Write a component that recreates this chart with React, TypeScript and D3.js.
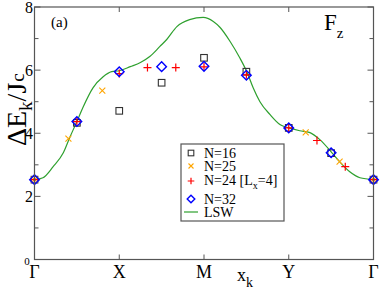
import React from 'react';
import * as d3 from 'd3';

// path positions: 0=Γ, 1=X, 2=M, 3=Y, 4=Γ
const kLabels = ['Γ', 'X', 'M', 'Y', 'Γ'];
const yTicks = [0, 2, 4, 6, 8];
const yMinor = [1, 3, 5, 7];

const n16K = [0, 0.5, 1, 1.5, 2, 2.5, 3, 3.5, 4];
const n16E = [2.53, 4.33, 4.71, 5.6, 6.39, 5.95, 4.17, 3.37, 2.53];

const n25K = [0, 0.4, 0.8, 3.2, 3.6, 4];
const n25E = [2.53, 3.83, 5.35, 4.03, 3.1, 2.53];

const n24K = [0, 0.5, 1, 1.333, 1.667, 2, 2.5, 3, 3.333, 3.667, 4];
const n24E = [2.53, 4.37, 5.89, 6.08, 6.08, 6.1, 5.85, 4.17, 3.77, 2.94, 2.53];

const n32K = [0, 0.5, 1, 1.5, 2, 2.5, 3, 3.5, 4];
const n32E = [2.53, 4.37, 5.95, 6.11, 6.12, 5.84, 4.17, 3.38, 2.53];

const lswK = [0, 0.1, 0.22, 0.34, 0.42, 0.5, 0.57, 0.69, 0.81, 0.91, 1.0, 1.13, 1.25, 1.36, 1.48,
  1.56, 1.68, 1.83, 1.99, 2.11, 2.19, 2.31, 2.42, 2.51, 2.58, 2.66, 2.78, 2.9, 3.0, 3.13,
  3.25, 3.37, 3.51, 3.6, 3.72, 3.84, 4.0];
const lswE = [2.53, 2.59, 2.94, 3.38, 3.89, 4.37, 4.81, 5.44, 5.79, 5.95, 5.98, 6.11, 6.24, 6.43, 6.75,
  6.97, 7.38, 7.6, 7.67, 7.54, 7.35, 6.9, 6.4, 5.92, 5.44, 5.0, 4.59, 4.27, 4.17, 4.08,
  4.02, 3.79, 3.38, 3.1, 2.78, 2.59, 2.53];

const W = 382;
const H = 294;
const left = 34.5;
const right = 373.5;
const top = 7;
const bottom = 259.5;

const axisColor = '#555';
const green = '#2ea02e';
const serif = '"Liberation Serif", "DejaVu Serif", serif';

const x = d3.scaleLinear().domain([0, 4]).range([left, right]);
const y = d3.scaleLinear().domain([0, 8]).range([bottom, top]);

const square = (cx: number, cy: number, key: string, s = 3.3) => (
  <rect key={key} x={cx - s} y={cy - s} width={2 * s} height={2 * s} fill="none" stroke="#333" strokeWidth={1.1} />
);
const cross = (cx: number, cy: number, key: string, s = 3) => (
  <path key={key} d={`M${cx - s},${cy - s}L${cx + s},${cy + s}M${cx - s},${cy + s}L${cx + s},${cy - s}`} stroke="#ffa500" strokeWidth={1.1} />
);
const plus = (cx: number, cy: number, key: string, s = 4) => (
  <path key={key} d={`M${cx - s},${cy}L${cx + s},${cy}M${cx},${cy - s}L${cx},${cy + s}`} stroke="#ff0000" strokeWidth={1.2} />
);
const diamond = (cx: number, cy: number, key: string, s = 4.8) => (
  <path key={key} d={`M${cx},${cy - s}L${cx + s},${cy}L${cx},${cy + s}L${cx - s},${cy}Z`} fill="none" stroke="#0000ff" strokeWidth={1.4} />
);

const App: React.FC = () => {
  const line = d3.line<number>()
    .x((_, i) => x(lswK[i]))
    .y((d) => y(d))
    .curve(d3.curveMonotoneX);

  const lx = 181;
  const ly = 144;
  const symX = 191;
  const txtX = 204;
  const lfs = 14;

  return (
    <div style={{ position: 'absolute', left: 0, top: 0 }}>
      <svg width={W} height={H} style={{ display: 'block', background: '#fff' }}>
        {/* ticks */}
        {yTicks.map((t) => (
          <g key={'yt' + t}>
            <line x1={left} x2={left + 6} y1={y(t)} y2={y(t)} stroke={axisColor} />
            <line x1={right} x2={right - 6} y1={y(t)} y2={y(t)} stroke={axisColor} />
          </g>
        ))}
        {yMinor.map((t) => (
          <g key={'ym' + t}>
            <line x1={left} x2={left + 4} y1={y(t)} y2={y(t)} stroke={axisColor} />
            <line x1={right} x2={right - 4} y1={y(t)} y2={y(t)} stroke={axisColor} />
          </g>
        ))}
        {[1, 2, 3].map((t) => (
          <g key={'xt' + t}>
            <line x1={x(t)} x2={x(t)} y1={bottom} y2={bottom - 5} stroke={axisColor} />
            <line x1={x(t)} x2={x(t)} y1={top} y2={top + 5} stroke={axisColor} />
          </g>
        ))}

        {/* LSW */}
        <path d={line(lswE) || ''} fill="none" stroke={green} strokeWidth={1.2} />

        {/* data */}
        {n16K.map((k, i) => square(x(k), y(n16E[i]), 's' + i))}
        {n25K.map((k, i) => cross(x(k), y(n25E[i]), 'c' + i))}
        {n24K.map((k, i) => plus(x(k), y(n24E[i]), 'p' + i))}
        {n32K.map((k, i) => diamond(x(k), y(n32E[i]), 'd' + i))}

        {/* frame */}
        <rect x={left} y={top} width={right - left} height={bottom - top} fill="none" stroke={axisColor} strokeWidth={1.2} />

        {/* y tick labels */}
        {yTicks.filter((t) => t > 0).map((t) => (
          <text key={'yl' + t} x={left - 1.5} y={y(t) + 5.5} textAnchor="end" fontFamily={serif} fontSize={16}>{t}</text>
        ))}
        <text x={27} y={265} textAnchor="middle" fontFamily={serif} fontSize={11}>0</text>

        {/* x tick labels */}
        {kLabels.map((l, i) => (
          <text key={'xl' + i} x={x(i)} y={278} textAnchor="middle" fontFamily={serif} fontSize={18}>{l}</text>
        ))}
        <text x={237} y={281} fontFamily={serif} fontSize={18}>x<tspan fontSize={14} dy={6}>k</tspan></text>

        {/* y label */}
        <text transform="translate(25.5,146) rotate(-90)" fontFamily={serif} fontSize={28}>
          ΔE<tspan fontSize={19} dy={6}>k</tspan><tspan dy={-6}>/J</tspan><tspan fontSize={19} dy={-2} dx={1}>c</tspan>
        </text>

        <text x={51} y={27} fontFamily={serif} fontSize={15}>(a)</text>
        <text x={324} y={30} fontFamily={serif} fontSize={23}>F<tspan fontSize={15} dy={8}>z</tspan></text>

        {/* legend */}
        <rect x={lx} y={ly} width={103} height={77} fill="#fff" stroke={axisColor} strokeWidth={1.2} />
        {square(symX, 153, 'ls', 2.8)}
        <text x={txtX} y={158} fontFamily={serif} fontSize={lfs}>N=16</text>
        {cross(symX, 166, 'lc', 2.5)}
        <text x={txtX} y={171} fontFamily={serif} fontSize={lfs}>N=25</text>
        {plus(symX, 181, 'lp', 3.3)}
        <text x={txtX} y={185} fontFamily={serif} fontSize={lfs}>N=24 [L<tspan fontSize={10} dy={4}>x</tspan><tspan dy={-4}>=4]</tspan></text>
        {diamond(symX, 199, 'ld', 3.8)}
        <text x={txtX} y={204} fontFamily={serif} fontSize={lfs}>N=32</text>
        <line x1={184} x2={198} y1={212} y2={212} stroke={green} strokeWidth={1.2} />
        <text x={txtX} y={217} fontFamily={serif} fontSize={lfs}>LSW</text>
      </svg>
    </div>
  );
};

export default App;
